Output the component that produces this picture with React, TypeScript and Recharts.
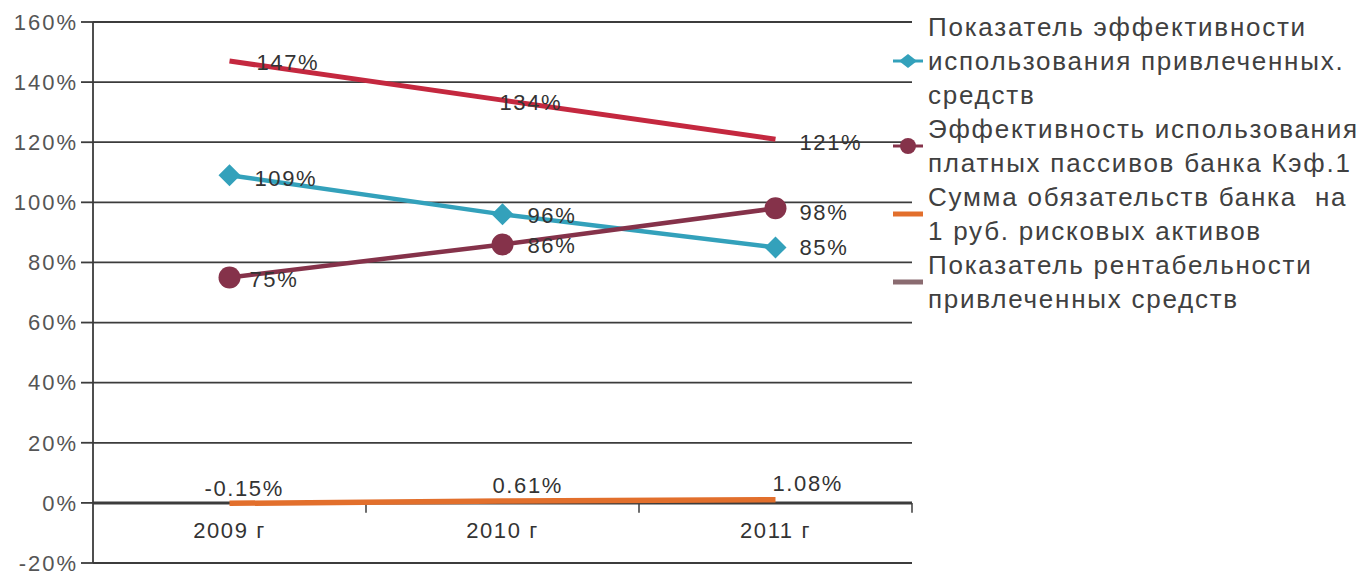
import React from 'react';
import { LineChart, Line, XAxis, YAxis, CartesianGrid, ReferenceLine, ReferenceDot, LabelList } from 'recharts';

const FONT = '"Liberation Sans", Arial, sans-serif';

const years = ['2009 г', '2010 г', '2011 г'];
const efficiencyAttracted = [109, 96, 85];
const efficiencyPaid = [75, 86, 98];
const liabilitiesPerRub = [-0.15, 0.61, 1.08];
const profitabilityAttracted = [147, 134, 121];
const yTicks = [-20, 0, 20, 40, 60, 80, 100, 120, 140, 160];
const bandEdges = [1, 2, 3];

const seriesNames = [
  'Показатель эффективности\nиспользования привлеченных.\nсредств',
  'Эффективность использования\nплатных пассивов банка Кэф.1',
  'Сумма обязательств банка  на\n1 руб. рисковых активов',
  'Показатель рентабельности\nпривлеченных средств',
];

const chartData = years.map((year, i) => ({
  pos: i + 0.5,
  year,
  attracted: efficiencyAttracted[i],
  paid: efficiencyPaid[i],
  liabilities: liabilitiesPerRub[i],
  profit: profitabilityAttracted[i],
}));

const TEAL = '#33a1bb';
const MAROON = '#85324a';
const ORANGE = '#e26f2c';
const RED = '#c4283f';

// label nudges per point, as placed in the original picture
const makeLabel = (dx: number[], dy: number[], fmt: (v: number) => string) => (props: any) => {
  const { x, y, value, index } = props;
  return (
    <text
      x={x + dx[index]}
      y={y + dy[index]}
      dy="0.35em"
      fill="#333"
      fontSize={22}
      letterSpacing={1.6}
      fontFamily={FONT}
    >
      {fmt(Number(value))}
    </text>
  );
};

const pct = (v: number) => `${v}%`;
const pct2 = (v: number) => `${v.toFixed(2)}%`;

const yearLabel = (text: string) => (p: any) => {
  const vb = p.viewBox || {};
  const cx = (vb.x ?? 0) + (vb.width ?? 0) / 2;
  const cy = (vb.y ?? 0) + (vb.height ?? 0) / 2;
  return (
    <text x={cx} y={cy + 27} dy="0.35em" textAnchor="middle" fill="#333" fontSize={22} letterSpacing={1.6} fontFamily={FONT}>
      {text}
    </text>
  );
};

const Diamond = (props: any) => {
  const { cx, cy } = props;
  if (cx == null || cy == null) return null;
  return <polygon points={`${cx},${cy - 11} ${cx + 11},${cy} ${cx},${cy + 11} ${cx - 11},${cy}`} fill={TEAL} />;
};

const Circle = (props: any) => {
  const { cx, cy } = props;
  if (cx == null || cy == null) return null;
  return <circle cx={cx} cy={cy} r={11} fill={MAROON} />;
};

const legendIcons = [
  <g>
    <line x1={0} y1={12} x2={30} y2={12} stroke={TEAL} strokeWidth={3} />
    <polygon points="15,5 24,12 15,19 6,12" fill={TEAL} />
  </g>,
  <g>
    <line x1={0} y1={12} x2={30} y2={12} stroke={MAROON} strokeWidth={3} />
    <circle cx={15} cy={12} r={8} fill={MAROON} />
  </g>,
  <line x1={0} y1={12} x2={30} y2={12} stroke={ORANGE} strokeWidth={5} />,
  <line x1={0} y1={12} x2={30} y2={12} stroke="#8a6b70" strokeWidth={5} />,
];

export default function App() {
  return (
    <div style={{ position: 'absolute', left: 0, top: 0, width: 1365, height: 573, background: '#fff' }}>
      <LineChart width={1365} height={573} data={chartData} margin={{ top: 22, right: 453, bottom: 10, left: 0 }}>
        <CartesianGrid vertical={false} stroke="#3c3c3c" strokeWidth={1.8} />
        <XAxis type="number" dataKey="pos" domain={[0, 3]} hide />
        <YAxis
          width={93}
          domain={[-20, 160]}
          ticks={yTicks}
          interval={0}
          tickFormatter={pct}
          axisLine={{ stroke: '#3c3c3c', strokeWidth: 1.8 }}
          tickLine={{ stroke: '#3c3c3c', strokeWidth: 1.8 }}
          tickSize={12}
          tickMargin={3}
          tick={{ fill: '#555', fontSize: 22, fontFamily: FONT, letterSpacing: 2 }}
        />
        <ReferenceLine y={0} stroke="#3c3c3c" strokeWidth={3} />
        {bandEdges.map((e) => (
          <ReferenceLine
            key={e}
            segment={[{ x: e, y: 0 }, { x: e, y: -3.3 }]}
            stroke="#3c3c3c"
            strokeWidth={1.5}
          />
        ))}
        {chartData.map((d) => (
          <ReferenceDot key={d.year} x={d.pos} y={0} r={0} fill="none" stroke="none" label={yearLabel(d.year)} />
        ))}
        <Line type="linear" dataKey="attracted" stroke={TEAL} strokeWidth={4.5} dot={<Diamond />} activeDot={false} isAnimationActive={false}>
          <LabelList dataKey="attracted" content={makeLabel([25, 25, 24], [3, 1, 0], pct)} />
        </Line>
        <Line type="linear" dataKey="paid" stroke={MAROON} strokeWidth={4.5} dot={<Circle />} activeDot={false} isAnimationActive={false}>
          <LabelList dataKey="paid" content={makeLabel([20, 25, 24], [2, 1, 4], pct)} />
        </Line>
        <Line type="linear" dataKey="liabilities" stroke={ORANGE} strokeWidth={5.5} dot={false} activeDot={false} isAnimationActive={false}>
          <LabelList dataKey="liabilities" content={makeLabel([-25, -10, -3], [-15, -16, -16], pct2)} />
        </Line>
        <Line type="linear" dataKey="profit" stroke={RED} strokeWidth={5} dot={false} activeDot={false} isAnimationActive={false}>
          <LabelList dataKey="profit" content={makeLabel([27, -3, 24], [1, 2, 3], pct)} />
        </Line>
      </LineChart>
      <div
        style={{
          position: 'absolute',
          left: 893,
          top: 10,
          fontFamily: FONT,
          fontSize: 26,
          lineHeight: '34px',
          letterSpacing: '1.75px',
          color: '#404040',
        }}
      >
        {seriesNames.map((name, i) => (
          <div key={i} style={{ display: 'flex', alignItems: 'center' }}>
            <svg width={35} height={24} style={{ flex: 'none' }}>
              {legendIcons[i]}
            </svg>
            <div style={{ whiteSpace: 'pre' }}>{name}</div>
          </div>
        ))}
      </div>
    </div>
  );
}
